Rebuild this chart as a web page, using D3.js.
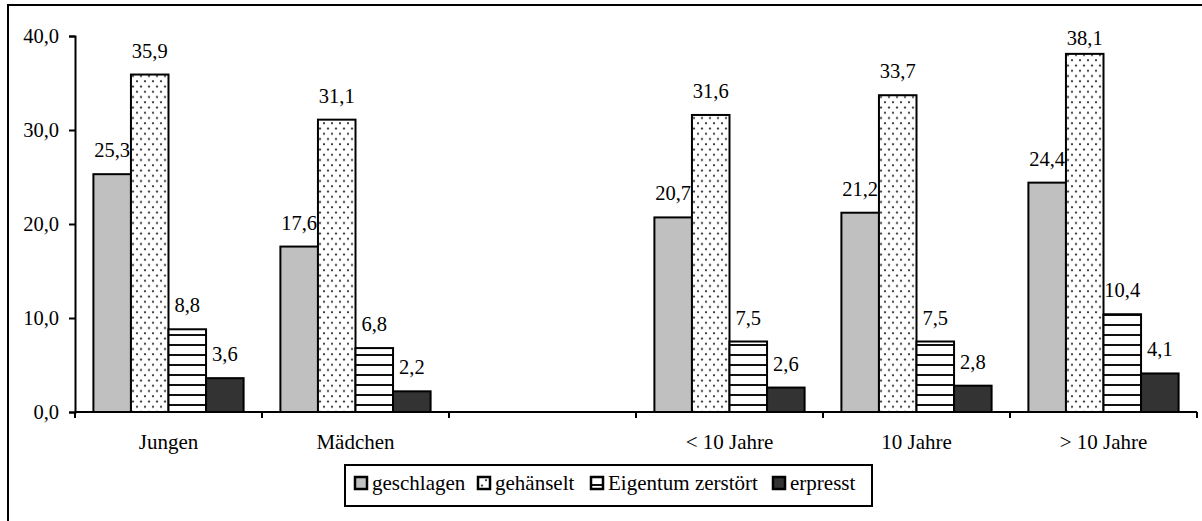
<!DOCTYPE html>
<html lang="de">
<head>
<meta charset="utf-8">
<script src="https://cdn.jsdelivr.net/npm/d3@7"></script>
<style>
  html, body { margin: 0; padding: 0; background: #fff; }
  svg { display: block; }
  text { font-family: "Liberation Serif", "Times New Roman", Tinos, serif; fill: #000; }
</style>
</head>
<body>
<svg id="chart" width="1202" height="521"></svg>
<script>
// Kategorien (die leere Kategorie trennt Geschlecht und Alter)
const categories = ["Jungen", "Mädchen", "", "< 10 Jahre", "10 Jahre", "> 10 Jahre"];
const seriesNames = ["geschlagen", "gehänselt", "Eigentum zerstört", "erpresst"];
const geschlagen = [25.3, 17.6, null, 20.7, 21.2, 24.4];
const gehaenselt = [35.9, 31.1, null, 31.6, 33.7, 38.1];
const eigentumZerstoert = [8.8, 6.8, null, 7.5, 7.5, 10.4];
const erpresst = [3.6, 2.2, null, 2.6, 2.8, 4.1];
const yTicks = [0, 10, 20, 30, 40];

const seriesValues = [geschlagen, gehaenselt, eigentumZerstoert, erpresst];
const fills = ["#c0c0c0", "url(#dots)", "url(#stripes)", "#333333"];
const FONT = "'Liberation Serif', 'Times New Roman', Tinos, serif";

const svg = d3.select("#chart");
const defs = svg.append("defs");

// Punktmuster
const dots = defs.append("pattern").attr("id", "dots")
  .attr("patternUnits", "userSpaceOnUse").attr("width", 8).attr("height", 10.5);
dots.append("rect").attr("width", 8).attr("height", 10.5).attr("fill", "#fff");
dots.append("circle").attr("cx", 2).attr("cy", 2.5).attr("r", 1.15).attr("fill", "#3a3a3a");
dots.append("circle").attr("cx", 6).attr("cy", 7.75).attr("r", 1.15).attr("fill", "#3a3a3a");

// Horizontale Streifen
const stripes = defs.append("pattern").attr("id", "stripes")
  .attr("patternUnits", "userSpaceOnUse").attr("width", 10).attr("height", 10);
stripes.append("rect").attr("width", 10).attr("height", 10).attr("fill", "#fff");
stripes.append("rect").attr("y", 4).attr("width", 10).attr("height", 2).attr("fill", "#111");

// Rahmen
svg.append("rect").attr("x", 8).attr("y", 5).attr("width", 1300).attr("height", 700)
  .attr("fill", "none").attr("stroke", "#000").attr("stroke-width", 2);

const x0 = 75, x1 = 1197, yTop = 36, yBottom = 412;
const labelMinBaseline = 45; // Beschriftungen bleiben innerhalb der Zeichenfläche

const x = d3.scaleBand().domain(d3.range(categories.length)).range([x0, x1]).paddingInner(0).paddingOuter(0);
const xs = d3.scaleBand().domain(d3.range(seriesNames.length)).range([0, x.bandwidth()])
  .paddingInner(0).paddingOuter(0.49);
const y = d3.scaleLinear().domain([0, 40]).range([yBottom, yTop]);

const fmt = v => v.toFixed(1).replace(".", ",");

// Balken
const groups = svg.append("g").selectAll("g")
  .data(categories.map((c, i) => i))
  .join("g")
  .attr("transform", i => `translate(${x(i)},0)`);

groups.each(function(ci) {
  const g = d3.select(this);
  seriesValues.forEach((vals, si) => {
    const v = vals[ci];
    if (v == null) return;
    g.append("rect")
      .attr("x", xs(si))
      .attr("y", y(v))
      .attr("width", xs.bandwidth())
      .attr("height", y(0) - y(v))
      .attr("fill", fills[si])
      .attr("stroke", "#000")
      .attr("stroke-width", 2);
  });
});

// Wertbeschriftungen
groups.each(function(ci) {
  const g = d3.select(this);
  seriesValues.forEach((vals, si) => {
    const v = vals[ci];
    if (v == null) return;
    g.append("text")
      .attr("x", xs(si) + xs.bandwidth() / 2)
      .attr("y", Math.max(y(v) - 17, labelMinBaseline))
      .attr("text-anchor", "middle")
      .attr("font-family", FONT)
      .attr("font-size", 20.5)
      .text(fmt(v));
  });
});

// Y-Achse
const yAxis = svg.append("g").attr("transform", `translate(${x0},0)`)
  .call(d3.axisLeft(y).tickValues(yTicks).tickFormat(fmt).tickSize(6).tickSizeOuter(6).tickPadding(10));
yAxis.selectAll("path, line").attr("stroke", "#000").attr("stroke-width", 2);
yAxis.selectAll("text").attr("font-size", 20.5).attr("font-family", FONT).attr("fill", "#000");

// X-Achse mit Teilstrichen an den Kategoriegrenzen
const boundaries = categories.map((c, i) => x(i)).concat([x(categories.length - 1) + x.bandwidth()]);
const xAxis = svg.append("g");
xAxis.append("line").attr("x1", x0).attr("x2", x1).attr("y1", yBottom).attr("y2", yBottom)
  .attr("stroke", "#000").attr("stroke-width", 2);
xAxis.selectAll("line.tick").data(boundaries).join("line").attr("class", "tick")
  .attr("x1", d => d).attr("x2", d => d).attr("y1", yBottom).attr("y2", yBottom + 6)
  .attr("stroke", "#000").attr("stroke-width", 2);
xAxis.selectAll("text").data(categories).join("text")
  .attr("x", (c, i) => x(i) + x.bandwidth() / 2)
  .attr("y", 449)
  .attr("text-anchor", "middle")
  .attr("font-family", FONT)
  .attr("font-size", 21)
  .text(c => c);

// Legende
const legend = svg.append("g");
legend.append("rect").attr("x", 345).attr("y", 465).attr("width", 527).attr("height", 41)
  .attr("fill", "#fff").attr("stroke", "#000").attr("stroke-width", 2);
const legendSwatchX = [355, 478, 591, 773];
seriesNames.forEach((name, i) => {
  legend.append("rect").attr("x", legendSwatchX[i]).attr("y", 477).attr("width", 12).attr("height", 12)
    .attr("fill", fills[i]).attr("stroke", "#000").attr("stroke-width", 2.5);
  legend.append("text").attr("x", legendSwatchX[i] + 17).attr("y", 490)
    .attr("font-family", FONT)
    .attr("font-size", 21).text(name);
});
</script>
</body>
</html>
